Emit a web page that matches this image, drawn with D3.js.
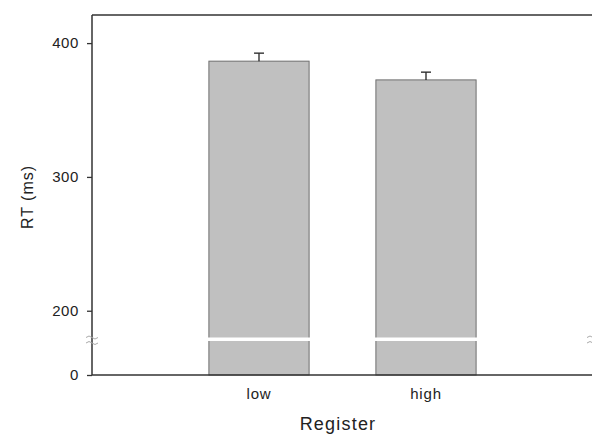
<!DOCTYPE html>
<html>
<head>
<meta charset="utf-8">
<script src="https://cdn.jsdelivr.net/npm/d3@7"></script>
<style>
  body { margin: 0; background: #fff; }
  text { font-family: "Liberation Sans", Arial, sans-serif; fill: #222; }
</style>
</head>
<body>
<div id="chart"></div>
<script>
// data
const categories = ['low', 'high'];
const meanRT = [386.5, 372.5];
const seRT = [6, 5.8];
const upperTicks = [200, 300, 400];
const lowerTicks = [0];

const margin = { top: 15, right: -1, bottom: 60, left: 92 },
    width = 592,
    height = 435,
    innerWidth = 501,
    plotBottom = 375;

const svg = d3.select('#chart')
    .append('svg')
    .attr('width', width)
    .attr('height', height);

const g = svg.append('g')
    .attr('transform', 'translate(' + margin.left + ',0)');

// broken y axis: upper and lower segments
const yUpper = d3.scaleLinear()
    .domain([180, 421])
    .range([337.5, margin.top]);
const yLower = d3.scaleLinear()
    .domain([0, 20])
    .range([plotBottom, 341]);
const y = v => v >= 180 ? yUpper(v) : yLower(v);

const x = d3.scaleBand()
    .domain(categories)
    .range([0, innerWidth])
    .paddingInner(0.4)
    .paddingOuter(0.7);

const data = categories.map((c, i) => ({ cat: c, mean: meanRT[i], se: seRT[i] }));

// bars
g.selectAll('rect.bar')
    .data(data)
    .enter()
    .append('rect')
    .attr('class', 'bar')
    .attr('x', d => x(d.cat))
    .attr('y', d => y(d.mean))
    .attr('width', x.bandwidth())
    .attr('height', d => y(0) - y(d.mean))
    .attr('fill', '#c0c0c0')
    .attr('stroke', '#6e6e6e')
    .attr('stroke-width', 1);

// white band where the axis is broken
g.selectAll('rect.gap')
    .data(data)
    .enter()
    .append('rect')
    .attr('x', d => x(d.cat) - 1)
    .attr('y', 337.5)
    .attr('width', x.bandwidth() + 2)
    .attr('height', 3.5)
    .attr('fill', '#fff');

// error bars (upper only)
const cap = 5;
const err = g.selectAll('g.err')
    .data(data)
    .enter()
    .append('g')
    .attr('stroke', '#222')
    .attr('stroke-width', 1.3);
err.append('line')
    .attr('x1', d => x(d.cat) + x.bandwidth() / 2)
    .attr('x2', d => x(d.cat) + x.bandwidth() / 2)
    .attr('y1', d => y(d.mean))
    .attr('y2', d => y(d.mean + d.se));
err.append('line')
    .attr('x1', d => x(d.cat) + x.bandwidth() / 2 - cap)
    .attr('x2', d => x(d.cat) + x.bandwidth() / 2 + cap)
    .attr('y1', d => y(d.mean + d.se))
    .attr('y2', d => y(d.mean + d.se));

// y axes
const axisUp = d3.axisLeft(yUpper).tickValues(upperTicks).tickSize(5).tickPadding(8);
const axisLow = d3.axisLeft(yLower).tickValues(lowerTicks).tickSize(5).tickPadding(8);
[axisUp, axisLow].forEach(a => {
    const ag = g.append('g').call(a);
    ag.select('.domain').remove();
    ag.selectAll('line').attr('stroke', '#333').attr('stroke-width', 1.3);
    ag.selectAll('text').style('font-size', '15px').style('letter-spacing', '0.6px').attr('fill', '#222');
});

// frame lines
const frame = g.append('g').attr('stroke', '#333').attr('stroke-width', 1.5).attr('fill', 'none');
frame.append('line').attr('x1', 0).attr('x2', 0).attr('y1', margin.top).attr('y2', plotBottom);
frame.append('line').attr('x1', 0).attr('x2', innerWidth + 5).attr('y1', plotBottom).attr('y2', plotBottom);
frame.append('line').attr('x1', 0).attr('x2', innerWidth + 5).attr('y1', margin.top).attr('y2', margin.top);

// break marks
const breakMark = cx => {
    [336.5, 342].forEach(yy => {
        g.append('path')
            .attr('d', `M${cx - 6},${yy + 1} q3,-3 6,0 t6,0`)
            .attr('fill', 'none')
            .attr('stroke', '#aaa')
            .attr('stroke-width', 1);
    });
};
breakMark(0);
breakMark(innerWidth);

// x labels
g.selectAll('text.xlab')
    .data(categories)
    .enter()
    .append('text')
    .attr('x', d => x(d) + x.bandwidth() / 2)
    .attr('y', 399)
    .attr('text-anchor', 'middle')
    .style('font-size', '15px')
    .style('letter-spacing', '0.8px')
    .text(d => d);

svg.append('text')
    .attr('x', 338)
    .attr('y', 430)
    .attr('text-anchor', 'middle')
    .style('font-size', '18px')
    .style('letter-spacing', '1.2px')
    .text('Register');

svg.append('text')
    .attr('transform', 'translate(33,197) rotate(-90)')
    .attr('text-anchor', 'middle')
    .style('font-size', '16px')
    .style('letter-spacing', '1px')
    .text('RT (ms)');
</script>
</body>
</html>
